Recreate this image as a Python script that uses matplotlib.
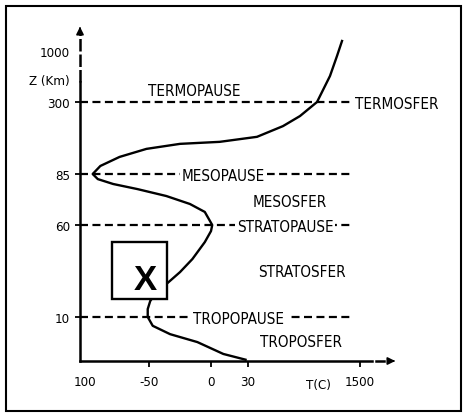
"""Atmosphere layers: temperature profile against altitude (schematic)."""

import numpy as np
import matplotlib
matplotlib.use('Agg')
import matplotlib.pyplot as plt
from matplotlib.patches import Rectangle
from matplotlib import font_manager as fm

W, H = 467, 414

# pick a narrow sans if one is installed, otherwise plain Liberation Sans
narrow = None
for f in fm.fontManager.ttflist:
    tag = (f.name + ' ' + str(f.stretch)).lower()
    if f.weight in (400, 'normal', 'regular') and f.style == 'normal' and \
            ('narrow' in tag or 'condensed' in tag):
        if narrow is None or 'liberation' in f.name.lower():
            narrow = f
if narrow is not None:
    NAR = fm.FontProperties(fname=narrow.fname)
    LAB_FS, TICK_FS = 10.9, 9.5
else:
    NAR = fm.FontProperties(family=['Liberation Sans', 'DejaVu Sans'])
    LAB_FS, TICK_FS = 9.6, 8.6

# schematic (non-linear) axes: value -> position across the drawing
t_ref = [-104, -100, -50, 0, 30, 1500, 1990]
t_pos = [80, 85, 149, 211, 248, 360, 398]
z_ref = [0, 10, 60, 85, 300, 1000, 1450]
z_pos = [52, 96, 188, 239, 311, 362, 389]

# temperature profile (deg C) and altitude (km)
temp = [28, 10, -11, -33, -47, -51, -51, -49, -45, -40, -36, -25, -15, -5, 0, 1,
        -5, -17, -36, -59, -78, -90, -94, -88, -73, -52, -25, 7, 148, 489, 712,
        936, 1106, 1198, 1264]
alt = [0.3, 1.6, 4.3, 6.1, 8.0, 10, 14.3, 18.7, 22.5, 25.7, 27.9, 34.4, 41.5,
       50.7, 56.7, 60, 66.4, 70.3, 74.2, 77.6, 80.1, 82.5, 85, 109, 136, 160,
       175, 181, 196, 228, 258, 300, 657, 931, 1167]

levels = [300, 85, 60, 10]
x_ticks = [-100, -50, 0, 30, 1500]
x_labels = ['100', '-50', '0', '30', '1500']
y_ticks = [10, 60, 85, 300, 1000]
y_labels = ['10', '60', '85', '300', '1000']


def fx(v):
    return np.interp(v, t_ref, t_pos)


def ix(p):
    return np.interp(p, t_pos, t_ref)


def fy(v):
    return np.interp(v, z_ref, z_pos)


def iy(p):
    return np.interp(p, z_pos, z_ref)


def ptext(px, py, s, size, **kw):
    fp = NAR.copy()
    fp.set_size(size)
    fig.text(px / W, 1 - py / H, s, fontproperties=fp, **kw)


fig = plt.figure(figsize=(W / 100, H / 100), dpi=100)
fig.patch.set_facecolor('white')
ax = fig.add_axes([80 / W, 52 / H, 318 / W, 337 / H])
ax.set_xscale('function', functions=(fx, ix))
ax.set_yscale('function', functions=(fy, iy))
ax.set_facecolor('none')
for s in ax.spines.values():
    s.set_visible(False)

# layer boundaries
ax.hlines(levels, -104, 1395, colors='black', lw=1.6, linestyles=(0, (3.6, 2.0)), zorder=2)

# temperature curve
ax.plot(temp, alt, color='black', lw=1.7, solid_joinstyle='round', zorder=3)

# axes drawn by hand: solid, then broken, then arrow head
k = dict(transform=ax.transAxes, clip_on=False, color='black', lw=1.8)
ax.plot([0, 0], [0, (389 - 110) / 337], **k)
ax.plot([0, 0], [(389 - 110) / 337, 0.97], ls=(0, (5, 1.2)), **k)
ax.plot([0, (372 - 80) / 318], [0, 0], **k)
ax.plot([(376 - 80) / 318, (384 - 80) / 318], [0, 0], **k)
ax.annotate('', xy=(0, 1.0), xytext=(0, 0.975), xycoords='axes fraction',
            arrowprops=dict(arrowstyle='-|>', color='black', lw=1.2,
                            mutation_scale=11))
ax.annotate('', xy=(1.0, 0), xytext=(0.975, 0), xycoords='axes fraction',
            arrowprops=dict(arrowstyle='-|>', color='black', lw=1.2,
                            mutation_scale=11))

ax.set_xlim(-104, 1990)
ax.set_ylim(0, 1450)
ax.set_xticks(x_ticks, x_labels)
ax.set_yticks(y_ticks, y_labels)
ax.minorticks_off()
ax.tick_params(axis='x', direction='out', length=4.3, width=1.3, pad=6)
ax.tick_params(axis='y', direction='out', length=3.6, width=1.3, pad=3.6)
for lbl in ax.get_xticklabels() + ax.get_yticklabels():
    lbl.set_fontproperties(NAR)
    lbl.set_fontsize(TICK_FS)
ax.xaxis.get_major_ticks()[0].tick1line.set_visible(False)
ax.yaxis.get_major_ticks()[-1].tick1line.set_visible(False)

# box with X sits over the curve
ax.add_patch(Rectangle((112 / W, 1 - 300 / H), 55 / W, 57 / H, transform=fig.transFigure,
                       facecolor='white', edgecolor='black', lw=1.7, zorder=5, clip_on=False))
fig.text(145 / W, 1 - 290 / H, 'X', ha='center', va='baseline', fontsize=25,
         fontweight='bold', family=['Liberation Sans', 'DejaVu Sans'], zorder=6)

lab = dict(va='baseline', ha='left')
wb = dict(facecolor='white', edgecolor='none', pad=1.2)
ptext(148, 96, 'TERMOPAUSE', LAB_FS, **lab)
ptext(355, 109, 'TERMOSFER', LAB_FS, **lab)
ptext(182, 181, 'MESOPAUSE', LAB_FS, bbox=wb, **lab)
ptext(253, 207, 'MESOSFER', LAB_FS, **lab)
ptext(237, 232, 'STRATOPAUSE', LAB_FS, bbox=wb, **lab)
ptext(258, 277, 'STRATOSFER', LAB_FS, **lab)
ptext(193, 324, 'TROPOPAUSE', LAB_FS,
      bbox=dict(facecolor='white', edgecolor='none', pad=3), **lab)
ptext(260, 347, 'TROPOSFER', LAB_FS, **lab)

ptext(70, 85, 'Z (Km)', TICK_FS, ha='right', va='baseline')
ptext(318, 389, 'T(C)', TICK_FS, ha='center', va='baseline')

# outer frame
fig.patches.append(Rectangle((6 / W, 2 / H), 455 / W, 405 / H, transform=fig.transFigure,
                             facecolor='none', edgecolor='black', lw=1.5))

fig.savefig('out.png', dpi=100, facecolor='white')
